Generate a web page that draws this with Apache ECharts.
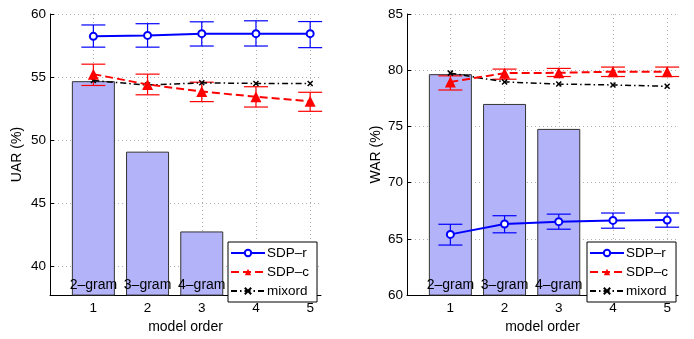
<!DOCTYPE html>
<html>
<head>
<meta charset="utf-8">
<script src="https://cdn.jsdelivr.net/npm/echarts@6/dist/echarts.min.js"></script>
<style>
  html, body { margin: 0; padding: 0; background: #fff; }
  #chart { width: 694px; height: 339px; }
</style>
</head>
<body>
<div id="chart"></div>
<script>
// model orders on the x axis
const orders = [1, 2, 3, 4, 5];
const gramNames = ['2–gram', '3–gram', '4–gram'];

// left panel: UAR (%)
const uarGram = [54.67, 49.08, 42.75];
const uarSdpR = [58.23, 58.30, 58.44, 58.44, 58.44];
const uarSdpRLo = [57.37, 57.37, 57.46, 57.46, 57.33];
const uarSdpRHi = [59.13, 59.23, 59.38, 59.46, 59.40];
const uarSdpC = [55.23, 54.41, 53.85, 53.44, 53.08];
const uarSdpCLo = [54.33, 53.59, 53.05, 52.62, 52.28];
const uarSdpCHi = [56.02, 55.23, 54.59, 54.23, 53.79];
const uarMixord = [54.72, 54.36, 54.54, 54.49, 54.49];
const uarTicks = [40, 45, 50, 55, 60];

// right panel: WAR (%)
const warGram = [79.65, 77.00, 74.78];
const warSdpR = [65.40, 66.32, 66.53, 66.64, 66.67];
const warSdpRLo = [64.45, 65.54, 65.86, 65.95, 66.04];
const warSdpRHi = [66.30, 67.06, 67.20, 67.30, 67.30];
const warSdpC = [78.96, 79.74, 79.77, 79.87, 79.87];
const warSdpCLo = [78.24, 79.20, 79.44, 79.44, 79.44];
const warSdpCHi = [79.50, 80.10, 80.16, 80.28, 80.28];
const warMixord = [79.74, 78.96, 78.77, 78.69, 78.57];
const warTicks = [60, 65, 70, 75, 80, 85];

const FONT = '"Liberation Sans", Arial, sans-serif';
const BLUE = '#0000ff';
const RED = '#ff0000';
const crossPath = 'path://M0,0L10,10M10,0L0,10';

const chart = echarts.init(document.getElementById('chart'));

const pairs = (ys) => orders.map((x, i) => [x, ys[i]]);
const errData = (lo, hi) => orders.map((x, i) => [x, lo[i], hi[i]]);

// error bar with caps, drawn through the axis scales
const errorBars = (idx, lo, hi, color) => ({
  type: 'custom',
  xAxisIndex: idx,
  yAxisIndex: idx,
  z: 3,
  silent: true,
  data: errData(lo, hi),
  renderItem: (params, api) => {
    const top = api.coord([api.value(0), api.value(2)]);
    const bot = api.coord([api.value(0), api.value(1)]);
    const hw = 12;
    const style = { stroke: color, lineWidth: 1.2 };
    return {
      type: 'group',
      children: [
        { type: 'line', shape: { x1: top[0], y1: top[1], x2: bot[0], y2: bot[1] }, style },
        { type: 'line', shape: { x1: top[0] - hw, y1: top[1], x2: top[0] + hw, y2: top[1] }, style },
        { type: 'line', shape: { x1: bot[0] - hw, y1: bot[1], x2: bot[0] + hw, y2: bot[1] }, style }
      ]
    };
  }
});

const panelSeries = (idx, gram, r, rLo, rHi, c, cLo, cHi, mix) => [
  {
    type: 'bar',
    xAxisIndex: idx,
    yAxisIndex: idx,
    barWidth: 43,
    z: 1,
    silent: true,
    data: gram.map((v, i) => [orders[i], v]),
    itemStyle: { color: '#b3b3fa', borderColor: '#333', borderWidth: 1 },
    label: {
      show: true,
      position: 'insideBottom',
      distance: 3,
      color: '#000',
      fontFamily: FONT,
      fontSize: 14,
      formatter: (p) => gramNames[p.dataIndex]
    }
  },
  errorBars(idx, rLo, rHi, BLUE),
  errorBars(idx, cLo, cHi, RED),
  {
    name: 'SDP–r',
    type: 'line',
    xAxisIndex: idx,
    yAxisIndex: idx,
    z: 5,
    data: pairs(r),
    symbol: 'emptyCircle',
    symbolSize: 7,
    lineStyle: { color: BLUE, width: 2 },
    itemStyle: { color: BLUE, borderColor: BLUE, borderWidth: 2 }
  },
  {
    name: 'SDP–c',
    type: 'line',
    xAxisIndex: idx,
    yAxisIndex: idx,
    z: 5,
    data: pairs(c),
    symbol: 'triangle',
    symbolSize: 11,
    lineStyle: { color: RED, width: 2, type: [8, 4] },
    itemStyle: { color: RED }
  },
  {
    name: 'mixord',
    type: 'line',
    xAxisIndex: idx,
    yAxisIndex: idx,
    z: 4,
    data: pairs(mix),
    symbol: crossPath,
    symbolSize: 5,
    lineStyle: { color: '#000', width: 1.5, type: [6, 3, 1.5, 3] },
    itemStyle: { color: '#000', borderColor: '#000', borderWidth: 1.5 }
  }
];

const xAxisFor = (idx) => ({
  type: 'value',
  gridIndex: idx,
  min: 0.2,
  max: 5.2,
  name: 'model order',
  nameLocation: 'middle',
  nameGap: 23,
  nameTextStyle: { fontFamily: FONT, fontSize: 14, color: '#000' },
  axisLine: { onZero: false, lineStyle: { color: '#000', width: 1 } },
  axisTick: { inside: true, length: 4, customValues: orders, lineStyle: { color: '#000' } },
  axisLabel: { customValues: orders, margin: 6, fontFamily: FONT, fontSize: 13.5, color: '#000' },
  splitLine: { show: true, lineStyle: { color: '#b0b0b0', type: [1, 3] } }
});

const yAxisFor = (idx, min, max, ticks, name, gap) => ({
  type: 'value',
  gridIndex: idx,
  min,
  max,
  name,
  nameLocation: 'middle',
  nameGap: gap,
  nameTextStyle: { fontFamily: FONT, fontSize: 14, color: '#000' },
  axisLine: { show: true, onZero: false, lineStyle: { color: '#000', width: 1 } },
  axisTick: { show: true, inside: true, length: 4, customValues: ticks, lineStyle: { color: '#000' } },
  axisLabel: { customValues: ticks, margin: 4, fontFamily: FONT, fontSize: 13.5, color: '#000' },
  splitLine: { show: true, lineStyle: { color: '#b0b0b0', type: [1, 3] } }
});

const legendFor = (left) => ({
  orient: 'vertical',
  left,
  top: 242,
  padding: [4, 8, 4, 2],
  itemGap: 5,
  itemWidth: 34,
  itemHeight: 8,
  backgroundColor: '#fff',
  borderColor: '#000',
  borderWidth: 1,
  borderRadius: 0,
  selectedMode: false,
  textStyle: { fontFamily: FONT, fontSize: 13.5, color: '#000', padding: [0, 0, 0, -3] },
  data: ['SDP–r', 'SDP–c', 'mixord']
});

const option = {
  backgroundColor: '#fff',
  animation: false,
  grid: [
    { left: 50, top: 14, width: 271, height: 290 },
    { left: 407, top: 14, width: 271, height: 290 }
  ],
  xAxis: [xAxisFor(0), xAxisFor(1)],
  yAxis: [
    yAxisFor(0, 37.7, 60, uarTicks, 'UAR (%)', 26),
    yAxisFor(1, 60, 85, warTicks, 'WAR (%)', 24)
  ],
  legend: [legendFor(228), legendFor(587)],
  series: [
    ...panelSeries(0, uarGram, uarSdpR, uarSdpRLo, uarSdpRHi, uarSdpC, uarSdpCLo, uarSdpCHi, uarMixord),
    ...panelSeries(1, warGram, warSdpR, warSdpRLo, warSdpRHi, warSdpC, warSdpCLo, warSdpCHi, warMixord)
  ]
};

chart.setOption(option);
</script>
</body>
</html>
